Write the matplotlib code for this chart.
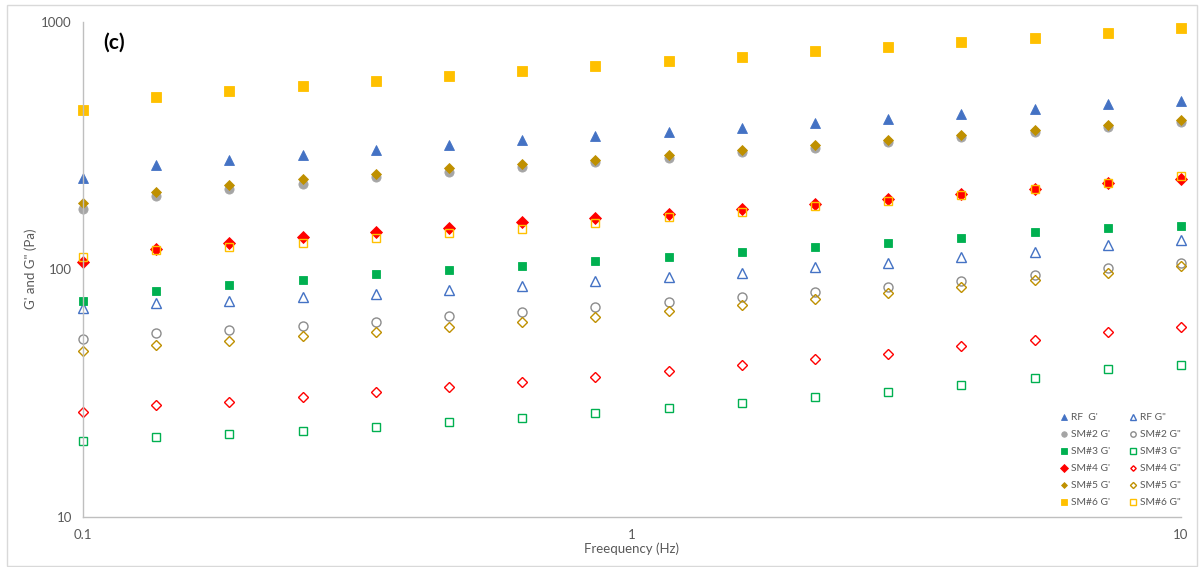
import matplotlib
matplotlib.use("Agg")
import matplotlib.pyplot as plt
from matplotlib.patches import Rectangle

# Frequency sweep (Hz)
freq = [0.1, 0.1359, 0.1848, 0.2512, 0.3415, 0.4642, 0.631, 0.8577,
        1.166, 1.585, 2.154, 2.929, 3.981, 5.412, 7.356, 10.0]

# Storage (G') and loss (G") moduli, Pa
rf_gp = [234, 263, 277, 291, 303, 318, 332, 345, 358, 374, 390, 406, 425, 445, 465, 481]
rf_gpp = [69.5, 72.8, 74.4, 77.0, 79.6, 82.4, 85.8, 89.4, 93.3, 96.8, 101.8, 106.2, 111.7, 117.7, 126, 130.9]
sm2_gp = [175.6, 198, 212, 222, 236, 247, 259, 271, 283, 297, 310, 326, 342, 359, 375, 396]
sm2_gpp = [52.2, 55.2, 56.8, 59.1, 61.4, 64.7, 67.2, 70.6, 73.9, 77.4, 81.1, 85.0, 89.9, 94.8, 101.1, 105.6]
sm3_gp = [74.2, 81.7, 86.4, 90.2, 95.4, 99.0, 102.7, 107.6, 111.7, 117, 122.6, 127.3, 133.3, 141, 146.3, 150.4]
sm3_gpp = [20.2, 21.0, 21.6, 22.3, 23.1, 24.1, 25.1, 26.3, 27.6, 28.9, 30.4, 32.0, 34.1, 36.4, 39.5, 40.9]
sm4_gp = [107.2, 120.3, 127.6, 135.6, 141.8, 147, 154.7, 161.4, 166.7, 174.6, 182.9, 191.6, 200.8, 211.5, 223, 231]
sm4_gpp = [26.5, 28.4, 29.1, 30.5, 31.9, 33.4, 35.0, 36.7, 38.8, 40.9, 43.3, 45.6, 48.8, 51.9, 55.9, 58.6]
sm5_gp = [184.6, 206, 220, 231, 244, 256, 266, 278, 290, 304, 318, 333, 349, 365, 382, 400]
sm5_gpp = [46.7, 49.5, 51.3, 53.6, 55.9, 58.6, 61.4, 64.3, 68.0, 71.7, 75.8, 79.9, 85.0, 90.4, 96.8, 103.3]
sm6_gp = [440, 496, 528, 551, 580, 607, 636, 662, 696, 725, 761, 793, 830, 865, 906, 946]
sm6_gpp = [112.3, 119.6, 123.3, 127.3, 134.5, 140.4, 145.8, 154.1, 162.5, 170.2, 180, 188.6, 199.5, 210.9, 223, 238]

x_ticks = [0.1, 1, 10]
x_tick_labels = ["0.1", "1", "10"]
y_ticks = [10, 100, 1000]
y_tick_labels = ["10", "100", "1000"]

BLUE, GRAY, GREEN, RED, GOLD, YELLOW = "#4472C4", "#A5A5A5", "#00B050", "#FF0000", "#BF9000", "#FFC000"
TEXT = "#595959"
FONT = "Lato"

# (label, values, marker, colour, filled, markersize)
series = [
    ("RF  G'", rf_gp, "^", BLUE, True, 7.0),
    ('RF G"', rf_gpp, "^", BLUE, False, 6.5),
    ("SM#2 G'", sm2_gp, "o", GRAY, True, 6.6),
    ('SM#2 G"', sm2_gpp, "o", "#8C8C8C", False, 6.5),
    ("SM#3 G'", sm3_gp, "s", GREEN, True, 6.3),
    ('SM#3 G"', sm3_gpp, "s", GREEN, False, 6.2),
    ("SM#4 G'", sm4_gp, "D", RED, True, 6.2),
    ('SM#4 G"', sm4_gpp, "D", RED, False, 4.6),
    ("SM#5 G'", sm5_gp, "D", GOLD, True, 5.0),
    ('SM#5 G"', sm5_gpp, "D", GOLD, False, 5.2),
    ("SM#6 G'", sm6_gp, "s", YELLOW, True, 7.2),
    ('SM#6 G"', sm6_gpp, "s", YELLOW, False, 6.4),
]

W, H = 1203, 567
fig = plt.figure(figsize=(W / 100, H / 100), dpi=100)
fig.patch.set_facecolor("white")

# light frame around the chart area
fig.patches.append(Rectangle((7 / W, 1 - 565.5 / H), (1197 - 7) / W, (565.5 - 5) / H,
                             transform=fig.transFigure, fill=False,
                             edgecolor="#D9D9D9", linewidth=1.0))

ax = fig.add_axes([83 / W, 1 - 516.7 / H, (1181 - 83) / W, (516.7 - 22) / H])
ax.set_xscale("log")
ax.set_yscale("log")
ax.set_xlim(0.1, 10)
ax.set_ylim(10, 1000)

handles = {}
for label, vals, mk, col, filled, ms in series:
    if filled:
        h, = ax.plot(freq, vals, linestyle="none", marker=mk, markersize=ms,
                     markerfacecolor=col, markeredgecolor=col, markeredgewidth=0.6,
                     clip_on=False, label=label)
    else:
        h, = ax.plot(freq, vals, linestyle="none", marker=mk, markersize=ms,
                     markerfacecolor="none", markeredgecolor=col, markeredgewidth=1.0,
                     clip_on=False, label=label)
    handles[label] = h

ax.minorticks_off()
ax.set_xticks(x_ticks)
ax.set_xticklabels(x_tick_labels)
ax.set_yticks(y_ticks)
ax.set_yticklabels(y_tick_labels)
ax.tick_params(axis="both", length=0, labelsize=9.5, labelcolor=TEXT)
ax.tick_params(axis="x", pad=9)
ax.tick_params(axis="y", pad=8)
for t in ax.get_xticklabels() + ax.get_yticklabels():
    t.set_fontfamily(FONT)

for side in ("top", "right"):
    ax.spines[side].set_visible(False)
for side in ("left", "bottom"):
    ax.spines[side].set_color("#BFBFBF")
    ax.spines[side].set_linewidth(1.0)

fig.text((83 + 1181) / 2 / W, 1 - 549 / H, "Freequency (Hz)", ha="center", va="center",
         fontsize=9.5, color=TEXT, family=FONT)
fig.text(31 / W, 1 - 269 / H, "G' and G\" (Pa)", ha="center", va="center", rotation=90,
         fontsize=9.5, color=TEXT, family=FONT)
fig.text(103 / W, 1 - 43 / H, "(c)", ha="left", va="center", fontsize=15,
         fontweight="bold", color="black", family=FONT)

# two-column legend, rows pair G' with G"
order = [s[0] for s in series[0::2]] + [s[0] for s in series[1::2]]
leg = ax.legend([handles[k] for k in order], order, ncol=2, frameon=False,
                loc="upper left", bbox_to_anchor=(1060 / W, 1 - 413 / H),
                bbox_transform=fig.transFigure, markerscale=0.6,
                prop={"family": FONT, "size": 7.4}, labelcolor=TEXT,
                handlelength=0.8, handletextpad=0.3, columnspacing=1.8,
                labelspacing=0.76, borderpad=0.0, borderaxespad=0.0)

fig.savefig("out.png", dpi=100)
